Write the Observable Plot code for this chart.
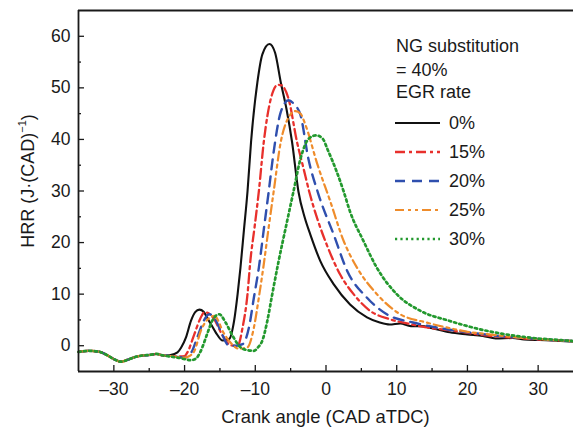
<!DOCTYPE html>
<html>
<head>
<meta charset="utf-8">
<script src="https://cdn.jsdelivr.net/npm/d3@7"></script>
<script src="https://cdn.jsdelivr.net/npm/@observablehq/plot@0.6"></script>
<style>
  html, body { margin: 0; padding: 0; background: #fff; }
  #chart { width: 573px; height: 429px; }
</style>
</head>
<body>
<div id="chart"></div>
<script>
// ---- data ----
const seriesNames = ["0%", "15%", "20%", "25%", "30%"];
const xTicks = [-30, -20, -10, 0, 10, 20, 30];
const xMinor = [-25, -15, -5, 5, 15, 25];
const yTicks = [0, 10, 20, 30, 40, 50, 60];
const yMinor = [5, 15, 25, 35, 45, 55];

const baseX = [-35, -33.5, -32, -31, -30, -29, -28, -27, -26, -25];
const baseY = [-1.2, -1.0, -1.2, -1.8, -2.6, -3.1, -2.7, -2.2, -1.9, -1.8];

const egr0X = [...baseX, -24, -23, -22, -21, -20.5, -19.8, -19.1, -18.5, -17.9, -17.3,
  -16.8, -16.2, -15.6, -14.6, -13.7, -13.0, -12.5, -12.1, -11.6, -11.1,
  -10.6, -9.7, -9.0, -8.0, -7.2, -6.4, -5.6, -4.8, -3.9, -3.0,
  -2.2, -0.8, 1.1, 3.4, 5.8, 7.6, 9.0, 10.5, 12.0, 13.5,
  15, 17.5, 20, 22.2, 24, 26.4, 28, 30.2, 32, 35];
const egr0Y = [...baseY, -1.6, -1.9, -1.8, -1.3, -0.4, 1.6, 4.8, 6.5, 7.0, 6.6,
  5.4, 4.0, 2.6, 1.0, 1.3, 4.8, 10.0, 15.1, 22.5, 29.9,
  39.5, 51.1, 56.5, 58.5, 56.8, 51.1, 46, 39.5, 29.9, 24.8,
  21.5, 16.4, 11.9, 8.0, 5.5, 4.5, 4.1, 4.3, 3.8, 3.8,
  3.4, 2.6, 2.2, 1.9, 1.4, 1.5, 1.2, 1.1, 1.0, 0.8];

const egr15X = [...baseX, -24, -23, -22, -21, -20, -19.6, -18.6, -17.8, -17.2, -16.5,
  -15.8, -14.6, -13.5, -12.5, -11.8, -11.1, -10.7, -10.1, -9.5, -8.8,
  -7.8, -6.8, -6.3, -5.3, -4.1, -3.2, -2.3, -1.2, 0.1, 2.0,
  3.9, 6.2, 9.1, 11.9, 14, 17.5, 20, 22.5, 25, 28,
  30, 32, 35];
const egr15Y = [...baseY, -1.6, -1.9, -2.0, -2.1, -2.0, -1.3, 2.3, 5.2, 6.5, 6.2,
  5.1, 1.9, 0.1, 0.0, 3.5, 10.0, 16.4, 23.0, 29.9, 39.5,
  47.9, 50.6, 50.5, 47.9, 39.5, 34.5, 29.5, 24.5, 19.6, 13.8,
  10.0, 6.8, 5.1, 4.2, 3.6, 3.0, 2.5, 2.0, 1.7, 1.4,
  1.2, 1.1, 0.9];

const egr20X = [...baseX, -24, -23, -22, -21, -20, -19, -18.2, -17.3, -16.5, -15.7,
  -14.9, -13.7, -12.7, -11.8, -10.9, -10.2, -9.5, -8.8, -8.1, -7.4,
  -6.4, -5.3, -4.5, -3.6, -2.5, -1.1, 1.1, 3.0, 5.8, 8.6,
  12.3, 15, 17.5, 20, 22.5, 25, 28, 30, 32, 35];
const egr20Y = [...baseY, -1.6, -1.9, -2.0, -2.2, -2.3, -1.2, 1.6, 4.8, 6.1, 5.2,
  2.9, 0.0, 0.0, 0.3, 3.5, 9.3, 15.1, 22.5, 29.9, 37.6,
  45.3, 47.6, 46.8, 44.7, 36.3, 29.5, 21.5, 14.5, 9.3, 6.1,
  4.5, 3.7, 3.1, 2.6, 2.2, 1.8, 1.5, 1.3, 1.1, 0.9];

const egr25X = [...baseX, -24, -23, -22, -21, -20, -19.3, -18.6, -17.7, -16.8, -15.8,
  -14.4, -13.3, -12.3, -11.1, -10.2, -9.5, -8.8, -8.1, -7.4, -6.4,
  -5.4, -4.3, -3.6, -2.9, -1.2, 0.6, 2.5, 4.4, 7.2, 10.5,
  14.2, 17.5, 20, 22.5, 25, 28, 30, 32, 35];
const egr25Y = [...baseY, -1.6, -1.9, -2.0, -2.2, -2.3, -2.0, -1.0, 2.9, 5.0, 5.8,
  2.3, 0.3, -0.6, -0.3, 3.5, 9.3, 15.8, 23.0, 29.9, 39.5,
  44.0, 45.5, 45.0, 42.8, 35.1, 28.0, 20.3, 15.1, 10.0, 6.1,
  4.5, 3.4, 2.7, 2.3, 1.9, 1.5, 1.3, 1.1, 0.9];

const egr30X = [...baseX, -24, -23, -22, -21, -20, -19.1, -18.4, -17.7, -16.8, -16.1,
  -15.1, -14.2, -13.2, -12.1, -11.0, -10.2, -9.6, -9.0, -8.3, -7.6,
  -6.7, -5.6, -4.6, -3.6, -2.4, -1.4, -0.5, 0.3, 1.5, 2.5,
  3.4, 5.3, 7.2, 10.0, 13.3, 17.5, 20, 22.7, 25, 28,
  30, 32, 35];
const egr30Y = [...baseY, -1.6, -1.9, -2.1, -2.3, -2.6, -2.8, -2.5, -1.0, 2.3, 4.8,
  6.1, 4.5, 1.9, -0.3, -0.9, -1.0, -0.3, 1.0, 4.8, 10.0,
  16.4, 23.5, 29.9, 36.3, 40.2, 40.8, 40.2, 37.8, 33.8, 29.9,
  26.0, 20.3, 15.1, 10.0, 6.8, 4.8, 3.8, 2.9, 2.3, 1.7,
  1.4, 1.2, 0.9];

// ---- styles ----
const seriesXs = [egr0X, egr15X, egr20X, egr25X, egr30X];
const seriesYs = [egr0Y, egr15Y, egr20Y, egr25Y, egr30Y];
const colors = ["#111111", "#e8302c", "#2f4fae", "#ef8c2b", "#23992e"];
const dashes = [null, "10,4,3,4", "10,7", "9,4,3,4,3,4", "2.2,3.2"];
const widths = [2.1, 2.3, 2.4, 2.2, 2.7];

const rows = seriesNames.map((name, i) =>
  seriesXs[i].map((x, j) => ({series: name, x, y: seriesYs[i][j]})));

const W = 573, H = 429, mL = 78, mR = 0, mT = 10, mB = 58;
const frameW = W - mL - mR, frameH = H - mT - mB;
const font = "'Liberation Sans', Arial, Helvetica, sans-serif";
const ink = "#1a1a1a";

const lineMarks = rows.map((data, i) => Plot.line(data, {
  x: "x", y: "y", stroke: colors[i], strokeWidth: widths[i],
  strokeDasharray: dashes[i], curve: "monotone-x"
}));

const chart = Plot.plot({
  width: W, height: H,
  marginLeft: mL, marginRight: mR, marginTop: mT, marginBottom: mB,
  x: {domain: [-35, 35]},
  y: {domain: [-5, 65]},
  style: {fontFamily: font, background: "#fff", color: ink, overflow: "visible"},
  marks: [
    ...lineMarks,
    Plot.ruleX([-35], {stroke: ink, strokeWidth: 1.8}),
    Plot.ruleY([-5, 65], {stroke: ink, strokeWidth: 1.8}),
    Plot.tickY(yTicks, {y: d => d, insetRight: frameW - 6, stroke: ink, strokeWidth: 1.3}),
    Plot.tickY(yMinor, {y: d => d, insetRight: frameW - 3, stroke: ink, strokeWidth: 1.3}),
    Plot.tickX(xTicks, {x: d => d, insetTop: frameH - 6, stroke: ink, strokeWidth: 1.3}),
    Plot.tickX(xMinor, {x: d => d, insetTop: frameH - 3, stroke: ink, strokeWidth: 1.3}),
    Plot.axisX(xTicks, {tickSize: 0, tickPadding: 11, fontSize: 17.5, label: null,
      tickFormat: d => d < 0 ? "\u2013" + Math.abs(d) : String(d)}),
    Plot.axisY(yTicks, {tickSize: 0, tickPadding: 8, fontSize: 17.5, label: null,
      tickFormat: d => String(d)})
  ]
});
document.getElementById("chart").appendChild(chart);

// ---- titles and legend ----
const svg = d3.select(chart);
svg.append("text")
  .attr("x", mL + frameW / 2).attr("y", 423)
  .attr("text-anchor", "middle")
  .attr("font-family", font).attr("font-size", 18.4).attr("fill", ink)
  .text("Crank angle (CAD aTDC)");
const yt = svg.append("text")
  .attr("transform", "translate(28,181) rotate(-90)")
  .attr("text-anchor", "middle").attr("dominant-baseline", "central")
  .attr("font-family", font).attr("font-size", 18).attr("fill", ink);
yt.append("tspan").text("HRR (J\u00b7(CAD)");
yt.append("tspan").attr("font-size", 11).attr("dy", -6).text("\u22121");
yt.append("tspan").attr("dy", 6).text(")");

const legendHead = ["NG substitution", "= 40%", "EGR rate"];
const headY = [51.5, 75.5, 97.5];
const legRowY = [123, 152, 181, 210, 239];
const lg = svg.append("g").attr("font-family", font).attr("font-size", 18)
  .attr("fill", ink).attr("text-anchor", "start");
legendHead.forEach((t, i) => lg.append("text").attr("x", 396).attr("y", headY[i]).text(t));
seriesNames.forEach((name, i) => {
  lg.append("line")
    .attr("x1", 395).attr("x2", 440).attr("y1", legRowY[i]).attr("y2", legRowY[i])
    .attr("stroke", colors[i]).attr("stroke-width", widths[i])
    .attr("stroke-dasharray", dashes[i]);
  lg.append("text").attr("x", 449).attr("y", legRowY[i] + 6.4).text(name);
});
</script>
</body>
</html>
